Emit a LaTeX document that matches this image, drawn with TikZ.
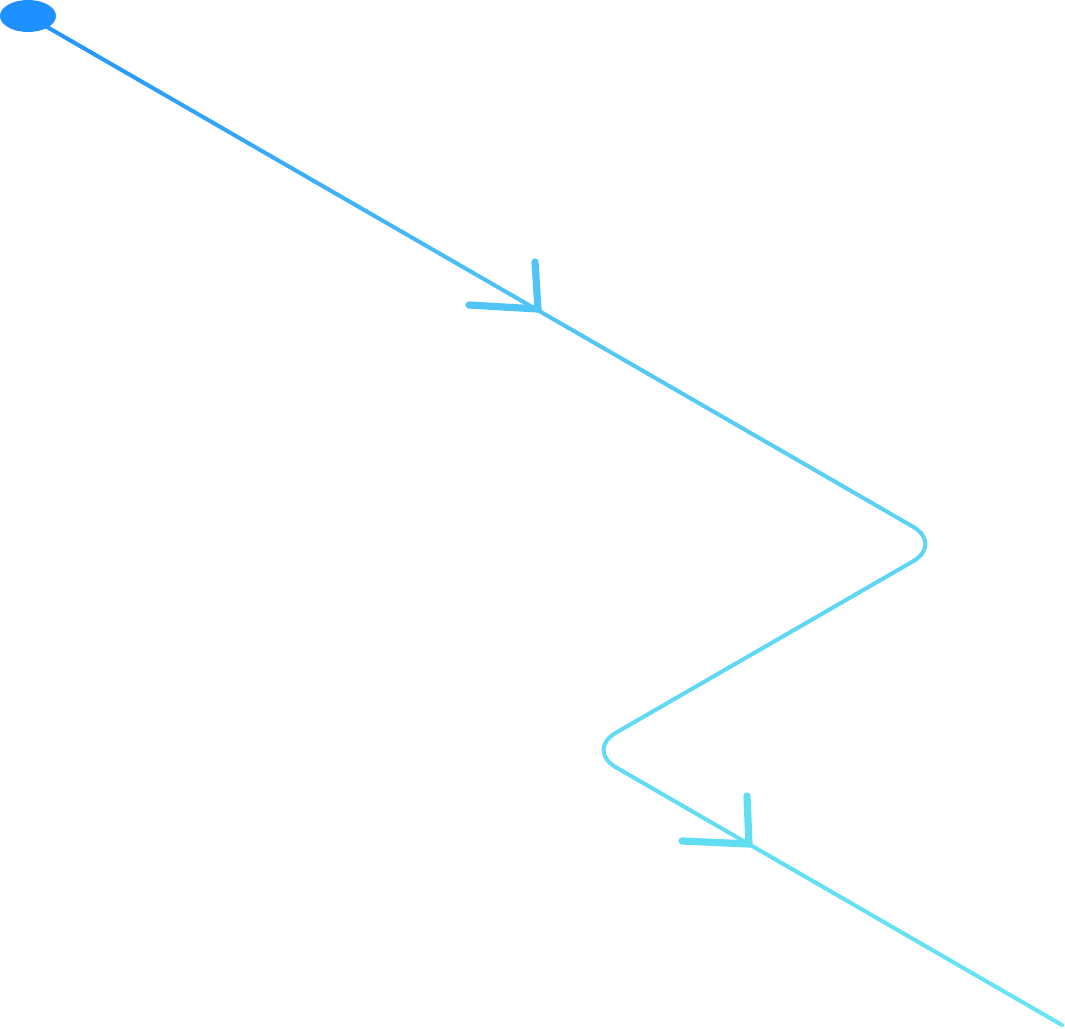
\documentclass[tikz,border=0pt]{standalone}
\usetikzlibrary{calc,shapes.geometric}
\definecolor{cA}{HTML}{1E90FF}
\definecolor{cB}{HTML}{50C4F6}
\definecolor{cC}{HTML}{5DD5F4}
\definecolor{cD}{HTML}{66E5F2}
\newcommand\colfor[1]{%
  \pgfmathsetmacro\cy{#1}%
  \ifdim\cy pt<300pt
    \pgfmathtruncatemacro\pp{\cy/3}\colorlet{segcol}{cB!\pp!cA}%
  \else\ifdim\cy pt<550pt
    \pgfmathtruncatemacro\pp{(\cy-300)/2.5}\colorlet{segcol}{cC!\pp!cB}%
  \else
    \pgfmathtruncatemacro\pp{(\cy-550)/4.79}\colorlet{segcol}{cD!\pp!cC}%
  \fi\fi}
\newcommand\gradseg[5]{%
  \foreach \i in {1,...,#5}{%
    \pgfmathsetmacro\ta{(\i-1)/#5}%
    \pgfmathsetmacro\tb{\i/#5}%
    \colfor{#3+(#4-#3)/#5*(\i-0.5)}%
    \draw[mainline,draw=segcol] ($(#1)!\ta!(#2)$) -- ($(#1)!\tb!(#2)$);
  }}
\begin{document}
\begin{tikzpicture}[x=0.75pt,y=-0.75pt,
  mainline/.style={line width=3pt,line cap=round},
  arrowarm/.style={line width=5.4pt,line cap=round,line join=miter},
  startdot/.style={ellipse,fill=cA,draw=none,minimum width=42pt,minimum height=24pt,inner sep=0pt}]
\useasboundingbox (0,0) rectangle (1065,1029);
\coordinate (s0) at (28,16);
\coordinate (c1) at (943,544);
\coordinate (c2) at (586,750);
\coordinate (e) at (1062,1025);
\coordinate (t1) at (538,309);
\coordinate (v1) at (535,262);
\coordinate (l1) at (469,305);
\coordinate (t2) at (749,844);
\coordinate (v2) at (747,796);
\coordinate (l2) at (682,841);
\coordinate (c1a) at ($(c1)!26pt!(s0)$);
\coordinate (c1b) at ($(c1)!26pt!(c2)$);
\coordinate (c2a) at ($(c2)!26pt!(c1)$);
\coordinate (c2b) at ($(c2)!26pt!(e)$);
% main path with colour gradient
\gradseg{s0}{c1a}{16}{527}{40}
\colfor{544}
\draw[mainline,draw=segcol,rounded corners=26pt] (c1a) -- (c1) -- (c1b);
\gradseg{c1b}{c2a}{561}{733}{15}
\colfor{750}
\draw[mainline,draw=segcol,rounded corners=26pt] (c2a) -- (c2) -- (c2b);
\gradseg{c2b}{e}{767}{1025}{20}
% arrowheads
\colfor{300}
\draw[arrowarm,draw=segcol] (l1) -- (t1) -- (v1);
\colfor{820}
\draw[arrowarm,draw=segcol] (l2) -- (t2) -- (v2);
% start dot
\node[startdot] (s) at (s0) {};
\end{tikzpicture}
\end{document}
